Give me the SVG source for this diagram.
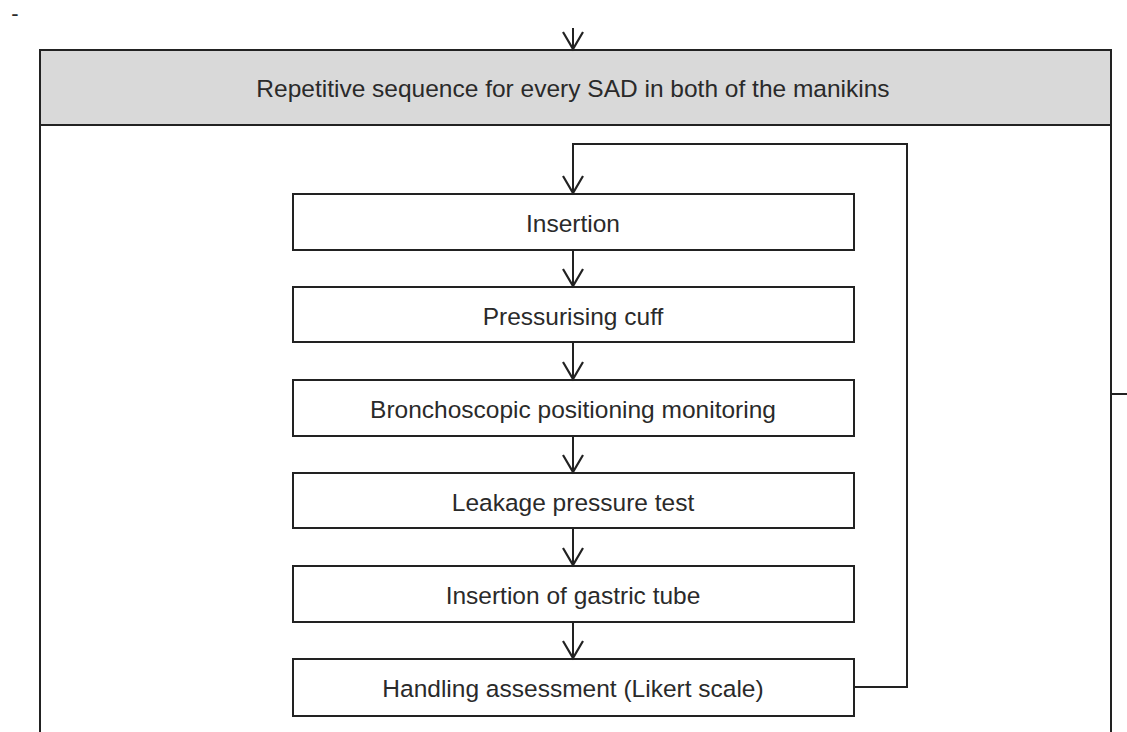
<svg xmlns="http://www.w3.org/2000/svg" width="1127" height="732" viewBox="0 0 1127 732">
<defs>
<marker id="arr" markerWidth="22" markerHeight="24" refX="19" refY="12" orient="auto" markerUnits="userSpaceOnUse" viewBox="0 0 22 24">
<path d="M2,2 L19,12 L2,22" fill="none" stroke="#222" stroke-width="2.2"/>
</marker>
<style>
.box{fill:#fff;stroke:#222;stroke-width:2}
.hdr{fill:#d9d9d9;stroke:#222;stroke-width:2}
.ln{fill:none;stroke:#222;stroke-width:2}
.t{font-family:"Liberation Sans",Arial,sans-serif;font-size:24.5px;fill:#2a2a2a;text-anchor:middle;dominant-baseline:central}
</style>
</defs>
<rect width="1127" height="732" fill="#fff"/>
<text x="15" y="13" class="t" style="font-size:22px">-</text>
<g id="container">
<path class="ln" d="M40,732 V50 H1111 V732"/>
<rect class="hdr" x="40" y="50" width="1071" height="75"/>
<text class="t" x="573" y="88">Repetitive sequence for every SAD in both of the manikins</text>
</g>
<g id="n1"><rect class="box" x="293" y="194" width="561" height="56"/><text class="t" x="573" y="223">Insertion</text></g>
<g id="n2"><rect class="box" x="293" y="287" width="561" height="55"/><text class="t" x="573" y="316">Pressurising cuff</text></g>
<g id="n3"><rect class="box" x="293" y="380" width="561" height="56"/><text class="t" x="573" y="409">Bronchoscopic positioning monitoring</text></g>
<g id="n4"><rect class="box" x="293" y="473" width="561" height="55"/><text class="t" x="573" y="502">Leakage pressure test</text></g>
<g id="n5"><rect class="box" x="293" y="566" width="561" height="56"/><text class="t" x="573" y="595">Insertion of gastric tube</text></g>
<g id="n6"><rect class="box" x="293" y="659" width="561" height="57"/><text class="t" x="573" y="688">Handling assessment (Likert scale)</text></g>
<g id="connectors">
<path class="ln" d="M573,28 V49" marker-end="url(#arr)"/>
<path class="ln" d="M854,687 H907 V144 H573 V193" marker-end="url(#arr)"/>
<path class="ln" d="M573,251 V286" marker-end="url(#arr)"/>
<path class="ln" d="M573,343 V379" marker-end="url(#arr)"/>
<path class="ln" d="M573,437 V472" marker-end="url(#arr)"/>
<path class="ln" d="M573,529 V565" marker-end="url(#arr)"/>
<path class="ln" d="M573,623 V658" marker-end="url(#arr)"/>
<path class="ln" d="M1111,394 H1127"/>
</g>
</svg>
